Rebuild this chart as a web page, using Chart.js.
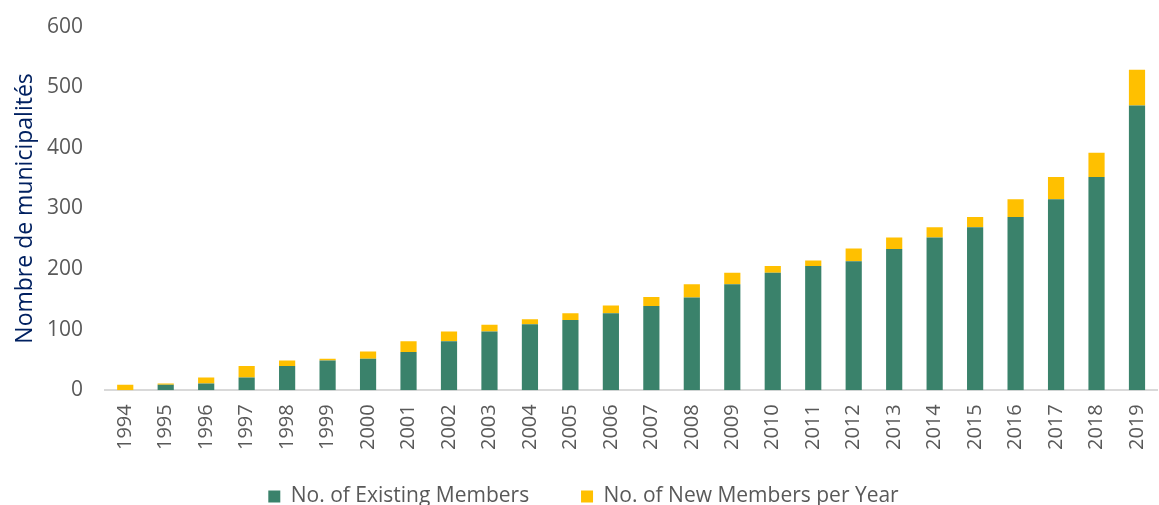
<!DOCTYPE html>
<html>
<head>
<meta charset="utf-8">
<script src="https://cdn.jsdelivr.net/npm/chart.js@4"></script>
<style>
    html, body { margin: 0; padding: 0; overflow: hidden; background: #fff; }
    #wrap { width: 1167px; height: 517px; position: relative; }
</style>
</head>
<body>
<div id="wrap"><canvas id="myChart"></canvas></div>
<script>
const years = ["1994", "1995", "1996", "1997", "1998", "1999", "2000", "2001", "2002", "2003", "2004", "2005", "2006",
    "2007", "2008", "2009", "2010", "2011", "2012", "2013", "2014", "2015", "2016", "2017", "2018", "2019"];
const existingMembers = [0, 9, 11, 21, 40, 49, 52, 63, 81, 97, 109, 116, 127, 139, 153, 175, 194, 205, 213, 233, 252, 269, 286, 315, 352, 470];
const newMembers = [9, 2, 10, 19, 9, 3, 12, 18, 16, 11, 8, 11, 13, 15, 22, 19, 11, 9, 21, 19, 17, 17, 29, 37, 40, 59];

const fontFamily = "'Open Sans', sans-serif";

const ctx = document.getElementById("myChart").getContext("2d");
const chart = new Chart(ctx, {
    type: "bar",
    data: {
        labels: years,
        datasets: [
            {
                label: "No. of Existing Members",
                data: existingMembers,
                backgroundColor: "#3a826b",
                barPercentage: 0.4,
                categoryPercentage: 1,
            },
            {
                label: "No. of New Members per Year",
                data: newMembers,
                backgroundColor: "#ffc000",
                barPercentage: 0.4,
                categoryPercentage: 1,
            },
        ],
    },
    options: {
        responsive: true,
        maintainAspectRatio: false,
        animation: false,
        layout: {
            padding: { top: 3, right: 0, bottom: 0, left: 0 },
        },
        scales: {
            x: {
                stacked: true,
                grid: { display: false },
                border: { color: "#d9d9d9", width: 2 },
                ticks: {
                    color: "#595959",
                    font: { family: fontFamily, size: 20 },
                    minRotation: 90,
                    maxRotation: 90,
                    padding: 6,
                },
            },
            y: {
                stacked: true,
                min: 0,
                max: 600,
                grid: { display: false },
                border: { display: false },
                ticks: {
                    stepSize: 100,
                    color: "#595959",
                    font: { family: fontFamily, size: 21 },
                    padding: 14,
                },
                title: {
                    display: true,
                    text: "Nombre de municipalités",
                    color: "#002060",
                    font: { family: fontFamily, size: 23 },
                    padding: { top: 12, bottom: 0 },
                },
                afterFit: function (scale) {
                    scale.width = 105;
                },
            },
        },
        plugins: {
            legend: {
                position: "bottom",
                labels: {
                    color: "#595959",
                    font: { family: fontFamily, size: 21 },
                    boxWidth: 12,
                    boxHeight: 12,
                    padding: 30,
                    // a little extra room after the first entry
                    generateLabels: function (chart) {
                        const items = Chart.defaults.plugins.legend.labels.generateLabels(chart);
                        items[0].text += "    ";
                        return items;
                    },
                },
            },
            tooltip: { enabled: false },
        },
    },
});
</script>
</body>
</html>
